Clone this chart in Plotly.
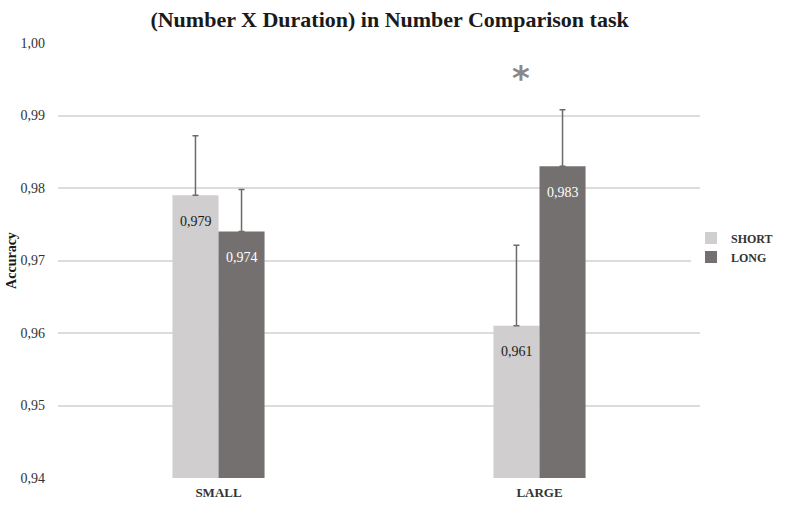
import plotly.graph_objects as go

# data
categories = ["SMALL", "LARGE"]
short_acc = [0.979, 0.961]
long_acc = [0.974, 0.983]
short_err = [0.0082, 0.0111]
long_err = [0.0058, 0.0078]
short_labels = ["0,979", "0,961"]
long_labels = ["0,974", "0,983"]
y_ticks = [0.94, 0.95, 0.96, 0.97, 0.98, 0.99, 1.00]

SERIF = "Liberation Serif, Times New Roman, serif"
LIGHT = "#d0cecf"
DARK = "#747070"
ERR = "#6e6a6a"

fig = go.Figure()

fig.add_trace(go.Bar(
    x=categories,
    y=short_acc,
    name="SHORT",
    marker=dict(color=LIGHT, line=dict(width=0)),
    error_y=dict(type="data", array=short_err, symmetric=False, arrayminus=[],
                 color=ERR, thickness=1.5, width=3),
))

fig.add_trace(go.Bar(
    x=categories,
    y=long_acc,
    name="LONG",
    marker=dict(color=DARK, line=dict(width=0)),
    error_y=dict(type="data", array=long_err, symmetric=False, arrayminus=[],
                 color=ERR, thickness=1.5, width=3),
))

# value labels a bit below the top of each bar
for cat, val, lab in zip(categories, short_acc, short_labels):
    fig.add_annotation(x=cat, y=val, text=lab, showarrow=False, xshift=-23, yshift=-26,
                       font=dict(family=SERIF, size=14, color="#1a1a1a"))
for cat, val, lab in zip(categories, long_acc, long_labels):
    fig.add_annotation(x=cat, y=val, text=lab, showarrow=False, xshift=23, yshift=-26,
                       font=dict(family=SERIF, size=14, color="white"))

# significance marker over LARGE
fig.add_annotation(
    x="LARGE", y=0.996, text="<b>*</b>", showarrow=False, xshift=-19, yshift=-6,
    font=dict(family="DejaVu Sans, sans-serif", size=34, color="#8c8888"),
)

fig.update_layout(
    width=787,
    height=506,
    separators=", ",
    paper_bgcolor="white",
    plot_bgcolor="white",
    barmode="group",
    bargap=0.713,
    bargroupgap=0,
    margin=dict(l=58, r=87, t=43, b=28, autoexpand=False),
    title=dict(
        text="<b>(Number X Duration) in Number Comparison task</b>",
        x=0.495, xanchor="center", y=0.962, yanchor="middle",
        font=dict(family=SERIF, size=22, color="#1a1a1a"),
    ),
    font=dict(family=SERIF, size=12, color="#333333"),
    legend=dict(
        x=0.986, xanchor="left", y=0.53, yanchor="middle",
        font=dict(family=SERIF, size=12, color="#333333", weight="bold"),
        itemwidth=30, tracegroupgap=0,
    ),
    showlegend=True,
)

fig.update_xaxes(
    showgrid=False, zeroline=False, showline=False,
    tickfont=dict(family=SERIF, size=13, color="#333333", weight="bold"),
    ticks="", automargin=False, ticklabelstandoff=5,
)

fig.update_yaxes(
    range=[0.94, 1.0],
    tickvals=y_ticks,
    tickformat=".2f",
    showgrid=True, gridcolor="#dcdcdc", gridwidth=1.5,
    zeroline=False, showline=False,
    tickfont=dict(family=SERIF, size=14, color="#333333"),
    ticklabelstandoff=12, automargin=False,
    title=dict(text="<b>Accuracy</b>", font=dict(family=SERIF, size=14, color="#1a1a1a"), standoff=0),
)

# drop the default page margin so the figure fills the window exactly
fig.write_html("out.html", config={"displayModeBar": False},
               post_script="document.body.style.margin='0';")
